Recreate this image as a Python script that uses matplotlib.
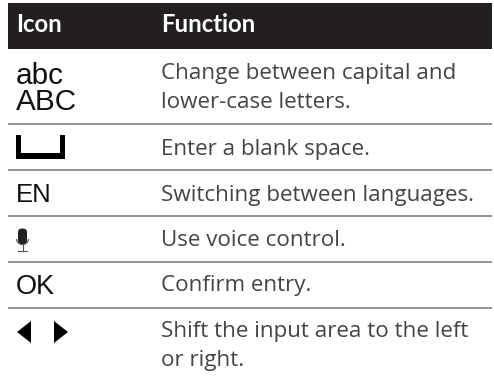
import matplotlib
matplotlib.use('Agg')
import matplotlib.pyplot as plt
from matplotlib.patches import Rectangle, FancyBboxPatch, Arc, Polygon

W, H = 494, 381

headers = ['Icon', 'Function']
functions = ['Change between capital and\nlower-case letters.',
             'Enter a blank space.',
             'Switching between languages.',
             'Use voice control.',
             'Confirm entry.',
             'Shift the input area to the left\nor right.']
icons = ['abc\nABC', '', 'EN', '', 'OK', '']
icon_sizes = [21.4, 0, 18.5, 0, 19.5, 0]
row_lines = [124, 170, 216, 262, 308]
text_mids = [88, 149, 195, 240, 286, 346]
icon_mids = [89, 147, 195, 239, 287, 333]

fig = plt.figure(figsize=(W / 100, H / 100), dpi=100)
ax = fig.add_axes([0, 0, 1, 1])
ax.set_xlim(0, W)
ax.set_ylim(H, 0)
ax.axis('off')

# header band
ax.add_patch(Rectangle((8, 3), 484, 46, color='#231f20', lw=0))
ax.text(16, 25, headers[0], color='white', fontsize=17.2, fontweight='bold',
        family='Lato', va='center')
ax.text(161, 25, headers[1], color='white', fontsize=17.2, fontweight='bold',
        family='Lato', va='center')

for y in row_lines:
    ax.plot([8, 492], [y, y], color='#8a8a8a', lw=1.3, solid_capstyle='butt')

for y, txt in zip(text_mids, functions):
    ax.text(161, y, txt, color='#444444', fontsize=16.1, family='Open Sans',
            va='center', linespacing=1.5)

for y, ic, s in zip(icon_mids, icons, icon_sizes):
    if ic:
        ax.text(16, y, ic, color='#111111', fontsize=s, family='Liberation Sans',
                va='center', linespacing=0.93)

# blank space icon
ax.add_patch(Polygon([(16, 135), (21, 135), (21, 153), (60, 153), (60, 135),
                      (65, 135), (65, 158.7), (16, 158.7)], color='black', lw=0))

# microphone icon
ax.add_patch(FancyBboxPatch((18, 228.5), 9, 16, boxstyle='round,pad=0,rounding_size=4',
                            color='#222222', lw=0))
ax.add_patch(Arc((22.5, 239), 12, 11, theta1=0, theta2=180, color='#555555', lw=0.8))
ax.plot([22.5, 22.5], [244, 250], color='#555555', lw=0.8)
ax.plot([18, 27], [250.5, 250.5], color='#555555', lw=0.8)

# arrow icons
ax.add_patch(Polygon([(17, 332), (31, 321), (31, 343)], color='black', lw=0))
ax.add_patch(Polygon([(68, 332), (54, 321), (54, 343)], color='black', lw=0))

fig.savefig('out.png', dpi=100)
